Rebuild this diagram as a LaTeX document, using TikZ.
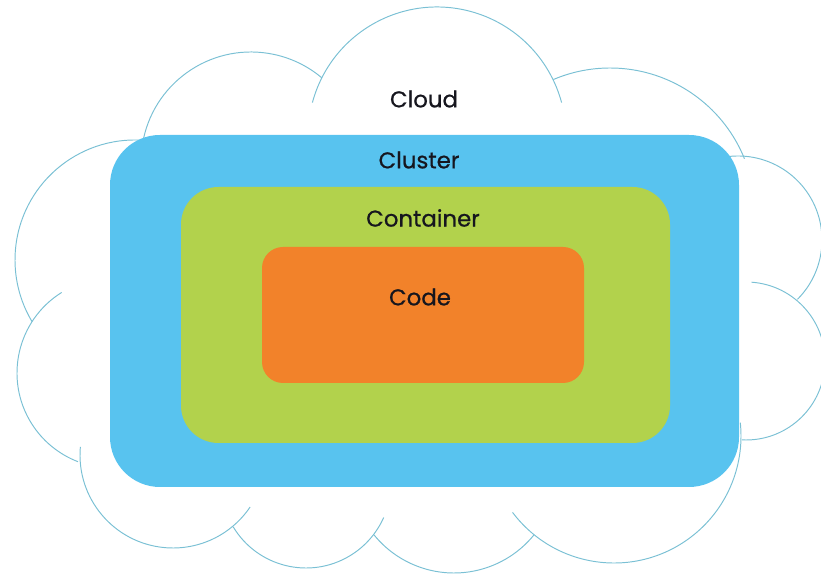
\documentclass[tikz,border=0pt]{standalone}
\usepackage{fontspec}
\setmainfont{Poppins}
\newfontfamily\labelfont{Poppins}[FakeBold=0.7]
\usetikzlibrary{positioning}

\definecolor{cloudline}{RGB}{122,192,212}
\definecolor{clusterblue}{RGB}{88,195,239}
\definecolor{containergreen}{RGB}{178,210,76}
\definecolor{codeorange}{RGB}{242,130,42}
\definecolor{labeltext}{RGB}{22,22,30}

\tikzset{
  lobe/.style={draw=cloudline, line width=0.55pt},
  layer/.style={rounded corners=#1},
  layerlabel/.style={font=\labelfont\fontsize{13}{15}\selectfont, text=labeltext, inner sep=0pt}
}

\begin{document}
\begin{tikzpicture}[x=0.02cm, y=0.02cm]
    \useasboundingbox (0,0) rectangle (821,574);

    % Cloud outline
    \draw[lobe] (437,438) ++(165:129) arc[start angle=165, end angle=15, radius=129];
    \draw[lobe] (251,412) ++(168:110) arc[start angle=168, end angle=50, radius=110];
    \draw[lobe] (610,361) ++(113:145) arc[start angle=113, end angle=22, radius=145];
    \draw[lobe] (738,334) ++(97:84) arc[start angle=97, end angle=-45, radius=84];
    \draw[lobe] (746,213) ++(86:79) arc[start angle=86, end angle=-93, radius=79];
    \draw[lobe] (614,138) ++(217:127) arc[start angle=217, end angle=366, radius=127];
    \draw[lobe] (454,104) ++(219:103) arc[start angle=219, end angle=321, radius=103];
    \draw[lobe] (306,91) ++(211:85) arc[start angle=211, end angle=336, radius=85];
    \draw[lobe] (173,119) ++(175:93) arc[start angle=175, end angle=326, radius=93];
    \draw[lobe] (112,201) ++(122:95) arc[start angle=122, end angle=249, radius=95];
    \draw[lobe] (135,314) ++(86:120) arc[start angle=86, end angle=211, radius=120];

    % Cluster
    \fill[clusterblue, layer=1cm] (110,87) rectangle (739,439);
    % Container
    \fill[containergreen, layer=0.75cm] (181,131) rectangle (670,387);
    % Code
    \fill[codeorange, layer=0.42cm] (262,191) rectangle (584,327);

    % Labels
    \node[layerlabel] (cloud) at (424,475) {Cloud};
    \node[layerlabel] (cluster) at (419,414) {Cluster};
    \node[layerlabel] (container) at (423,356) {Container};
    \node[layerlabel] (code) at (420,277) {Code};
\end{tikzpicture}
\end{document}
